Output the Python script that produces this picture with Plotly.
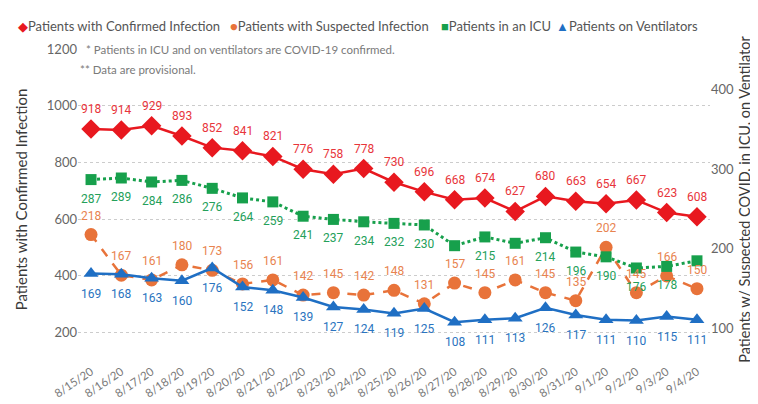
import plotly.graph_objects as go

dates = ["8/15/20", "8/16/20", "8/17/20", "8/18/20", "8/19/20", "8/20/20", "8/21/20",
         "8/22/20", "8/23/20", "8/24/20", "8/25/20", "8/26/20", "8/27/20", "8/28/20",
         "8/29/20", "8/30/20", "8/31/20", "9/1/20", "9/2/20", "9/3/20", "9/4/20"]
confirmed = [918, 914, 929, 893, 852, 841, 821, 776, 758, 778, 730, 696, 668, 674,
             627, 680, 663, 654, 667, 623, 608]
suspected = [218, 167, 161, 180, 173, 156, 161, 142, 145, 142, 148, 131, 157, 145,
             161, 145, 135, 202, 145, 166, 150]
icu = [287, 289, 284, 286, 276, 264, 259, 241, 237, 234, 232, 230, 204, 215,
       207, 214, 196, 190, 176, 178, 185]
icu_label_shown = [True] * 12 + [False, True, False] + [True] * 5 + [False]
ventilators = [169, 168, 163, 160, 176, 152, 148, 139, 127, 124, 119, 125, 108, 111,
               113, 126, 117, 111, 110, 115, 111]

series_names = ["Patients with Confirmed Infection", "Patients with Suspected Infection",
                "Patients in an ICU", "Patients on Ventilators"]
left_ticks = [200, 400, 600, 800, 1000, 1200]
right_ticks = [100, 200, 300, 400]

RED, ORANGE, GREEN, BLUE = "#e8181f", "#e8733a", "#17a04c", "#1f6fc4"
RED_T, ORANGE_T, GREEN_T, BLUE_T = "#e8353b", "#e8834f", "#24a05a", "#2a74c0"
LABEL_FONT = "Liberation Sans Narrow, Roboto, sans-serif"
TEXT_FONT = "Lato, Open Sans, sans-serif"

fig = go.Figure()
fig.add_trace(go.Scatter(x=dates, y=confirmed, name=series_names[0], mode="lines+markers",
                         line=dict(color=RED, width=2.5),
                         marker=dict(symbol="diamond", size=15, color=RED), yaxis="y"))
fig.add_trace(go.Scatter(x=dates, y=suspected, name=series_names[1], mode="lines+markers",
                         line=dict(color=ORANGE, width=2.5, dash="dash"),
                         marker=dict(symbol="circle", size=13, color=ORANGE), yaxis="y2"))
fig.add_trace(go.Scatter(x=dates, y=icu, name=series_names[2], mode="lines+markers",
                         line=dict(color=GREEN, width=3, dash="dot"),
                         marker=dict(symbol="square", size=11, color=GREEN), yaxis="y2"))
fig.add_trace(go.Scatter(x=dates, y=ventilators, name=series_names[3], mode="lines+markers",
                         line=dict(color=BLUE, width=2.5),
                         marker=dict(symbol="triangle-up", size=13, color=BLUE), yaxis="y2"))

annotations = []


def add_labels(values, yref, shift, color, shown=None):
    for i, (d, v) in enumerate(zip(dates, values)):
        if shown is not None and not shown[i]:
            continue
        annotations.append(dict(x=d, y=v, xref="x", yref=yref, text=str(v), showarrow=False,
                                yshift=shift, font=dict(family=LABEL_FONT, size=12, color=color)))


add_labels(confirmed, "y", 20, RED_T)
add_labels(suspected, "y2", 19, ORANGE_T)
add_labels(icu, "y2", -19, GREEN_T, icu_label_shown)
add_labels(ventilators, "y2", -20, BLUE_T)

# legend row
legend_items = [("◆", RED, series_names[0], 8), ("●", ORANGE, series_names[1], 220),
                ("■", GREEN, series_names[2], 431), ("▲", BLUE, series_names[3], 546)]
for sym, col, name, px in legend_items:
    annotations.append(dict(x=(px - 70) / 632, y=1 + (41 - 17) / 309, xref="paper", yref="paper",
                            xanchor="left", yanchor="middle", showarrow=False,
                            text=f"<span style='color:{col}'>{sym}</span>{name}",
                            font=dict(family=TEXT_FONT, size=13, color="#555555")))

annotations.append(dict(x=(76 - 70) / 632, y=1.0, xref="paper", yref="paper", xanchor="left",
                        yanchor="middle", showarrow=False,
                        text="* Patients in ICU and on ventilators are COVID-19 confirmed.",
                        font=dict(family=TEXT_FONT, size=11.5, color="#7a7a7a")))
annotations.append(dict(x=(70 - 70) / 632, y=1 - (62 - 41) / 309, xref="paper", yref="paper",
                        xanchor="left", yanchor="middle", showarrow=False,
                        text="** Data are provisional.",
                        font=dict(family=TEXT_FONT, size=11.5, color="#7a7a7a")))

fig.update_layout(
    width=758, height=404,
    margin=dict(l=70, r=56, t=41, b=54),
    paper_bgcolor="white", plot_bgcolor="white",
    showlegend=False,
    annotations=annotations,
    xaxis=dict(type="category", range=[-0.43, 20.43], showgrid=False, zeroline=False,
               showline=False, ticks="", tickangle=-34, ticklabelstandoff=12,
               tickfont=dict(family=TEXT_FONT, size=11.5, color="#7a7a7a")),
    yaxis=dict(range=[138, 1200], tickvals=left_ticks, showgrid=True, gridcolor="#cccccc",
               griddash="dot", gridwidth=1, zeroline=False, showline=False, ticks="",
               tickfont=dict(family=TEXT_FONT, size=13, color="#666666"),
               automargin=False,
               title=dict(text="Patients with Confirmed Infection", standoff=15,
                          font=dict(family=TEXT_FONT, size=15, color="#3a3a3a"))),
    yaxis2=dict(range=[73, 451], tickvals=right_ticks, overlaying="y", side="right",
                showgrid=False, zeroline=False, showline=False, ticks="", automargin=False,
                tickfont=dict(family=TEXT_FONT, size=13, color="#666666"),
                title=dict(text="Patients w/ Suspected COVID, in ICU, on Ventilator", standoff=6,
                           font=dict(family=TEXT_FONT, size=14.5, color="#3a3a3a"))),
)

fig.write_html("out.html")
